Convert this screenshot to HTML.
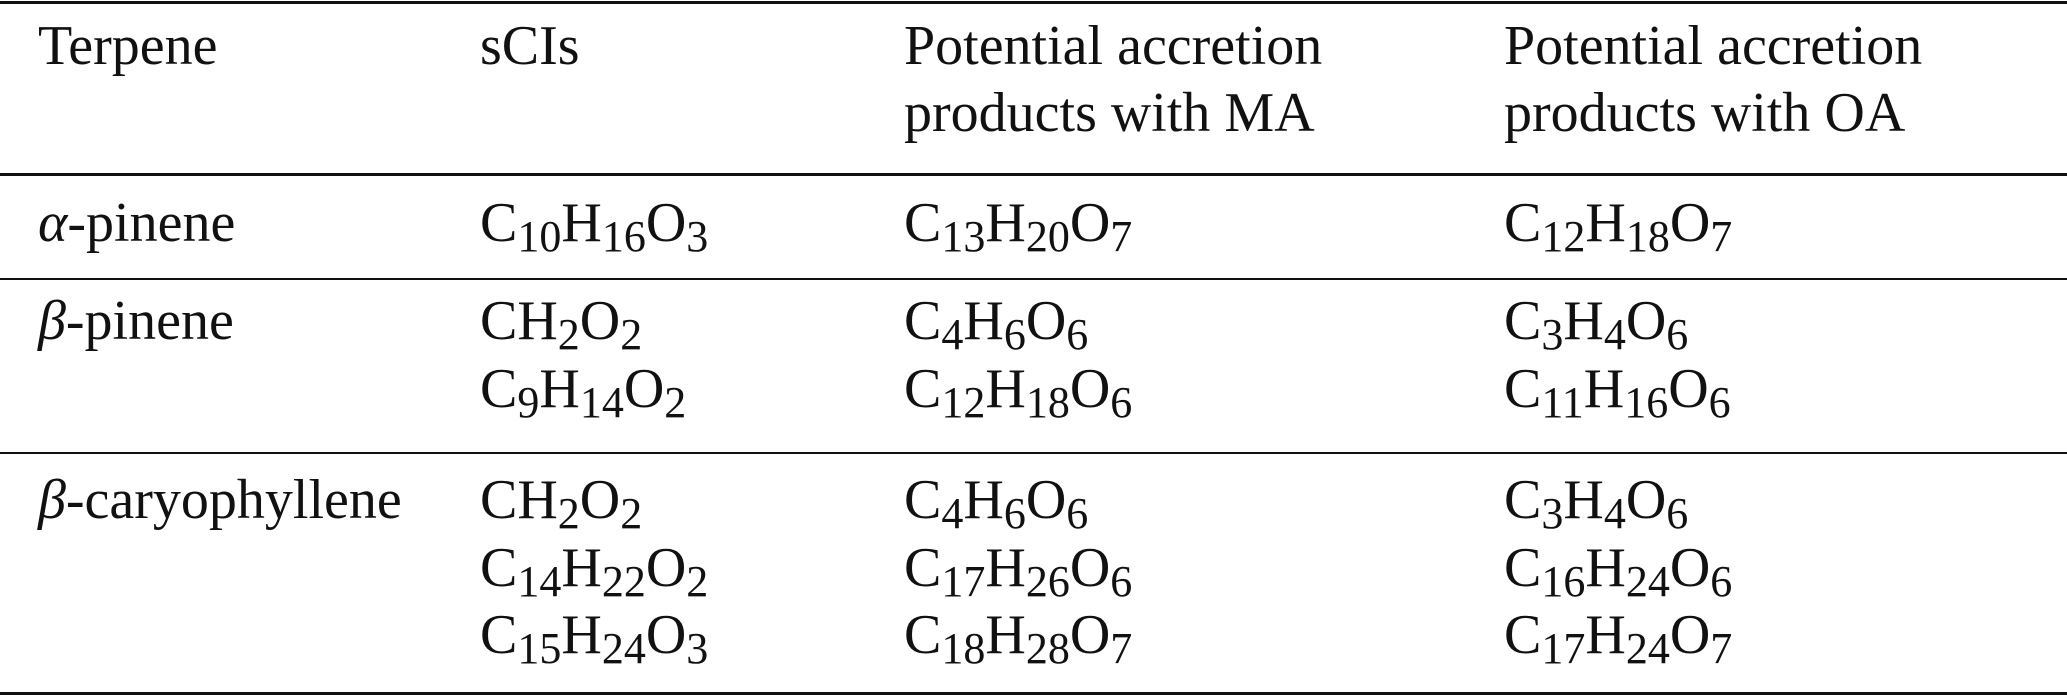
<!DOCTYPE html><html><head><style>
body{margin:0;width:2067px;height:696px;background:#fff;position:relative;overflow:hidden;font-family:"Liberation Serif",serif;font-size:56px;color:#111}
.l{position:absolute;left:0;width:2067px;background:#111}
.t{position:absolute;white-space:nowrap;line-height:1}
sub{font-size:44px;vertical-align:-10px;line-height:0}
</style></head><body>
<div class="l" style="top:1px;height:3px"></div>
<div class="l" style="top:173px;height:3px"></div>
<div class="l" style="top:278px;height:2px"></div>
<div class="l" style="top:452px;height:2px"></div>
<div class="l" style="top:692px;height:3px"></div>
<div class="t" style="left:38px;top:18px">Terpene</div>
<div class="t" style="left:480px;top:18px">sCIs</div>
<div class="t" style="left:904px;top:18px">Potential accretion</div>
<div class="t" style="left:904px;top:85px">products with MA</div>
<div class="t" style="left:1504px;top:18px">Potential accretion</div>
<div class="t" style="left:1504px;top:85px">products with OA</div>
<div class="t" style="left:38px;top:195px"><i>α</i>-pinene</div>
<div class="t" style="left:480px;top:195px">C<sub>10</sub>H<sub>16</sub>O<sub>3</sub></div>
<div class="t" style="left:904px;top:195px">C<sub>13</sub>H<sub>20</sub>O<sub>7</sub></div>
<div class="t" style="left:1504px;top:195px">C<sub>12</sub>H<sub>18</sub>O<sub>7</sub></div>
<div class="t" style="left:38px;top:293px"><i>β</i>-pinene</div>
<div class="t" style="left:480px;top:293px">CH<sub>2</sub>O<sub>2</sub></div>
<div class="t" style="left:480px;top:361px">C<sub>9</sub>H<sub>14</sub>O<sub>2</sub></div>
<div class="t" style="left:904px;top:293px">C<sub>4</sub>H<sub>6</sub>O<sub>6</sub></div>
<div class="t" style="left:904px;top:361px">C<sub>12</sub>H<sub>18</sub>O<sub>6</sub></div>
<div class="t" style="left:1504px;top:293px">C<sub>3</sub>H<sub>4</sub>O<sub>6</sub></div>
<div class="t" style="left:1504px;top:361px">C<sub>11</sub>H<sub>16</sub>O<sub>6</sub></div>
<div class="t" style="left:38px;top:472px"><i>β</i>-caryophyllene</div>
<div class="t" style="left:480px;top:472px">CH<sub>2</sub>O<sub>2</sub></div>
<div class="t" style="left:480px;top:540px">C<sub>14</sub>H<sub>22</sub>O<sub>2</sub></div>
<div class="t" style="left:480px;top:607px">C<sub>15</sub>H<sub>24</sub>O<sub>3</sub></div>
<div class="t" style="left:904px;top:472px">C<sub>4</sub>H<sub>6</sub>O<sub>6</sub></div>
<div class="t" style="left:904px;top:540px">C<sub>17</sub>H<sub>26</sub>O<sub>6</sub></div>
<div class="t" style="left:904px;top:607px">C<sub>18</sub>H<sub>28</sub>O<sub>7</sub></div>
<div class="t" style="left:1504px;top:472px">C<sub>3</sub>H<sub>4</sub>O<sub>6</sub></div>
<div class="t" style="left:1504px;top:540px">C<sub>16</sub>H<sub>24</sub>O<sub>6</sub></div>
<div class="t" style="left:1504px;top:607px">C<sub>17</sub>H<sub>24</sub>O<sub>7</sub></div>
</body></html>
